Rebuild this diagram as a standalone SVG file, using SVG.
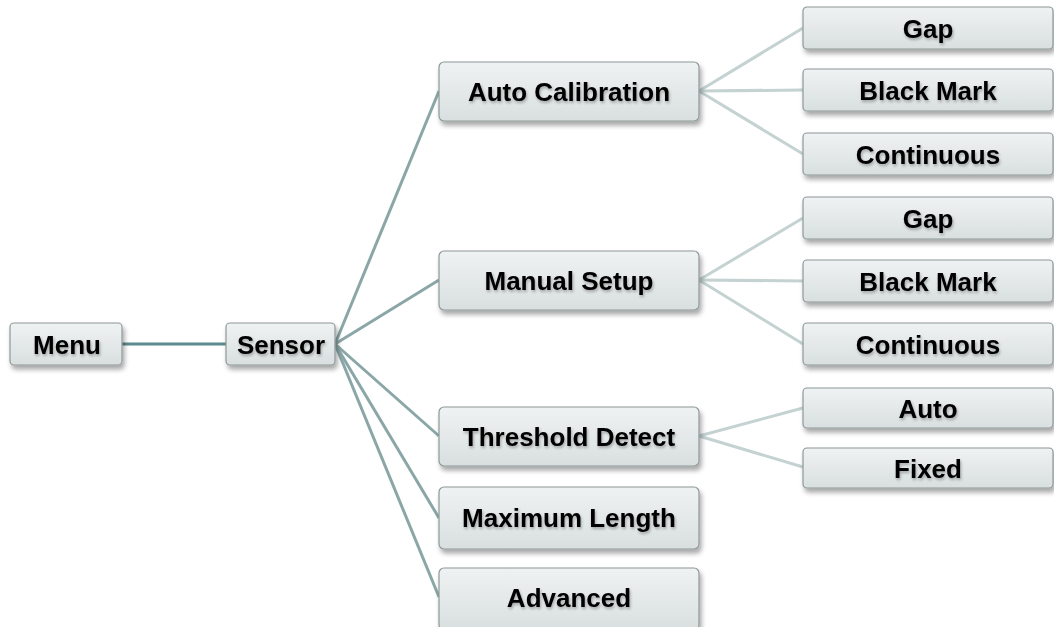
<svg xmlns="http://www.w3.org/2000/svg" width="1054" height="627" viewBox="0 0 1054 627">
<defs>
<linearGradient id="g" x1="0" y1="0" x2="0" y2="1">
<stop offset="0" stop-color="#eff2f2"/>
<stop offset="1" stop-color="#d9dfdf"/>
</linearGradient>
<filter id="sh" x="-10%" y="-20%" width="125%" height="160%">
<feGaussianBlur in="SourceAlpha" stdDeviation="2.5"/>
<feOffset dx="2" dy="4" result="b"/>
<feComponentTransfer><feFuncA type="linear" slope="0.35"/></feComponentTransfer>
<feMerge><feMergeNode/><feMergeNode in="SourceGraphic"/></feMerge>
</filter>
<filter id="ts" x="-10%" y="-30%" width="120%" height="170%">
<feGaussianBlur in="SourceAlpha" stdDeviation="1.5"/>
<feOffset dx="1" dy="2"/>
<feComponentTransfer><feFuncA type="linear" slope="0.3"/></feComponentTransfer>
<feMerge><feMergeNode/><feMergeNode in="SourceGraphic"/></feMerge>
</filter>
</defs>
<style>
.box{fill:url(#g);stroke:#8e9898;stroke-width:1.2;filter:url(#sh)}
.t{font-family:"Liberation Sans",Arial,sans-serif;font-weight:bold;font-size:26px;fill:#000;text-anchor:middle;filter:url(#ts)}
.c0{stroke:#5e8b8c;stroke-width:3;fill:none}
.c1{stroke:#8ba6a7;stroke-width:3;fill:none}
.c2{stroke:#c4d2d2;stroke-width:3;fill:none}
</style>
<rect width="1054" height="627" fill="#fff"/>
<g id="connectors">
<line class="c0" x1="122" y1="344" x2="226" y2="344"/>
<line class="c1" x1="335" y1="344" x2="439" y2="91"/>
<line class="c1" x1="335" y1="344" x2="439" y2="280"/>
<line class="c1" x1="335" y1="344" x2="439" y2="436"/>
<line class="c1" x1="335" y1="344" x2="439" y2="518"/>
<line class="c1" x1="335" y1="344" x2="439" y2="597"/>
<line class="c2" x1="699" y1="91" x2="803" y2="28"/>
<line class="c2" x1="699" y1="91" x2="803" y2="90"/>
<line class="c2" x1="699" y1="91" x2="803" y2="154"/>
<line class="c2" x1="699" y1="280" x2="803" y2="218"/>
<line class="c2" x1="699" y1="280" x2="803" y2="281"/>
<line class="c2" x1="699" y1="280" x2="803" y2="344"/>
<line class="c2" x1="699" y1="436" x2="803" y2="408"/>
<line class="c2" x1="699" y1="436" x2="803" y2="467"/>
</g>
<g id="menu"><rect class="box" x="10" y="323" width="112" height="42" rx="4"/><text class="t" x="67" y="354">Menu</text></g>
<g id="sensor"><rect class="box" x="226" y="323" width="109" height="42" rx="4"/><text class="t" x="281" y="354">Sensor</text></g>
<g id="auto-calibration"><rect class="box" x="439" y="62" width="260" height="59" rx="5"/><text class="t" x="569" y="101">Auto Calibration</text></g>
<g id="manual-setup"><rect class="box" x="439" y="251" width="260" height="59" rx="5"/><text class="t" x="569" y="290">Manual Setup</text></g>
<g id="threshold-detect"><rect class="box" x="439" y="407" width="260" height="59" rx="5"/><text class="t" x="569" y="446">Threshold Detect</text></g>
<g id="maximum-length"><rect class="box" x="439" y="487" width="260" height="62" rx="5"/><text class="t" x="569" y="527">Maximum Length</text></g>
<g id="advanced"><rect class="box" x="439" y="568" width="260" height="62" rx="5"/><text class="t" x="569" y="607">Advanced</text></g>
<g id="ac-gap"><rect class="box" x="803" y="7" width="250" height="42" rx="4"/><text class="t" x="928" y="38">Gap</text></g>
<g id="ac-black-mark"><rect class="box" x="803" y="69" width="250" height="42" rx="4"/><text class="t" x="928" y="100">Black Mark</text></g>
<g id="ac-continuous"><rect class="box" x="803" y="133" width="250" height="42" rx="4"/><text class="t" x="928" y="164">Continuous</text></g>
<g id="ms-gap"><rect class="box" x="803" y="197" width="250" height="42" rx="4"/><text class="t" x="928" y="228">Gap</text></g>
<g id="ms-black-mark"><rect class="box" x="803" y="260" width="250" height="42" rx="4"/><text class="t" x="928" y="291">Black Mark</text></g>
<g id="ms-continuous"><rect class="box" x="803" y="323" width="250" height="42" rx="4"/><text class="t" x="928" y="354">Continuous</text></g>
<g id="td-auto"><rect class="box" x="803" y="388" width="250" height="40" rx="4"/><text class="t" x="928" y="418">Auto</text></g>
<g id="td-fixed"><rect class="box" x="803" y="448" width="250" height="40" rx="4"/><text class="t" x="928" y="478">Fixed</text></g>
</svg>
